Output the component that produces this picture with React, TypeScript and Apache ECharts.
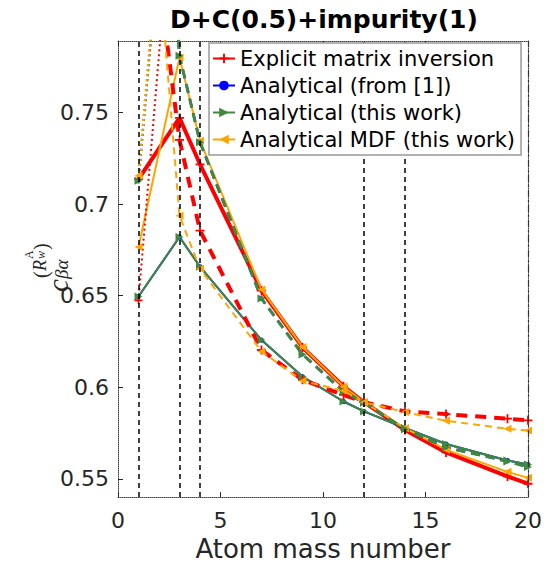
import React, { useEffect, useRef } from "react";
import * as echarts from "echarts";

const massNumbers = [1, 3, 4, 7, 9, 11, 12, 14, 16, 19, 20];
const dottedMass = [1, 3];
const explicitSolid = [0.7136, 0.747, 0.7217, 0.6527, 0.6217, 0.6005, 0.5918, 0.5766, 0.5644, 0.5513, 0.5473];
const explicitDashed = [0.91, 0.735, 0.6855, 0.6203, 0.604, 0.5958, 0.5918, 0.5868, 0.5853, 0.5828, 0.5819];
const explicitDotted = [0.6474, 0.916];
const thisWorkSolid = [0.6495, 0.682, 0.6658, 0.6257, 0.6058, 0.5922, 0.5868, 0.5777, 0.569, 0.56, 0.5578];
const thisWorkDashed = [1.1, 0.781, 0.7337, 0.6484, 0.6179, 0.5977, 0.5915, 0.577, 0.5672, 0.5595, 0.5565];
const thisWorkDotted = [0.7127, 0.97];
const fromRefSolid = thisWorkSolid;
const fromRefDashed = thisWorkDashed;
const fromRefDotted = thisWorkDotted;
const mdfSolid = [0.6765, 0.78, 0.7345, 0.6534, 0.6219, 0.6004, 0.5918, 0.5777, 0.5659, 0.5538, 0.5505];
const mdfDashed = [0.966, 0.6936, 0.6647, 0.6195, 0.6035, 0.598, 0.5918, 0.5864, 0.5817, 0.5773, 0.5763];
const mdfDotted = [0.7154, 0.975];
const dashedMarkers = [1, 3, 4, 12, 14];
const dashDotMarker = [20];
const legendNames = [
  "Explicit matrix inversion",
  "Analytical (from [1])",
  "Analytical (this work)",
  "Analytical MDF (this work)",
];

const RED = "#ff0000";
const BLUE = "#0000ff";
const GREEN = "#3f8a3f";
const ORANGE = "#ffa500";
const PLUS = "path://M4,0h2v4h4v2h-4v4h-2v-4h-4v-2h4z";
const TRI_R = "path://M0,0L10,5L0,10Z";
const TRI_L = "path://M10,0L0,5L10,10Z";

const pairs = (xs: number[], ys: number[]) => ys.map((y, i) => [xs[i], y]);

function mk(
  name: string,
  xs: number[],
  ys: number[],
  color: string,
  width: number,
  type: any,
  symbol: string,
  symbolSize: number
) {
  return {
    type: "line",
    name,
    data: pairs(xs, ys),
    symbol,
    symbolSize,
    showSymbol: true,
    lineStyle: { color, width, type },
    itemStyle: { color, borderWidth: 0 },
    z: 3,
  };
}

export default function App() {
  const ref = useRef<HTMLDivElement>(null);
  useEffect(() => {
    if (!ref.current) return;
    const chart = echarts.init(ref.current, undefined, { renderer: "svg" });
    const axisTxt = { color: "#262626", fontSize: 22, fontFamily: "DejaVu Sans" };
    const series: any[] = [
      mk(legendNames[0], massNumbers, explicitSolid, RED, 4, "solid", PLUS, 9),
      mk(legendNames[1], massNumbers, fromRefSolid, BLUE, 2, "solid", "circle", 5),
      mk(legendNames[2], massNumbers, thisWorkSolid, GREEN, 2, "solid", TRI_R, 8),
      mk(legendNames[3], massNumbers, mdfSolid, ORANGE, 2, "solid", TRI_L, 8),
      mk(legendNames[0], massNumbers, explicitDashed, RED, 4, [11, 8], PLUS, 9),
      mk(legendNames[1], massNumbers, fromRefDashed, BLUE, 2.5, [9, 6], "circle", 4),
      mk(legendNames[2], massNumbers, thisWorkDashed, GREEN, 3, [9, 6], TRI_R, 8),
      mk(legendNames[3], massNumbers, mdfDashed, ORANGE, 2, [7, 5], TRI_L, 8),
      mk(legendNames[0], dottedMass, explicitDotted, RED, 2, [2, 3], PLUS, 8),
      mk(legendNames[1], dottedMass, fromRefDotted, BLUE, 2, [2, 3], "circle", 4),
      mk(legendNames[2], dottedMass, thisWorkDotted, GREEN, 2.5, [2, 3], TRI_R, 8),
      mk(legendNames[3], dottedMass, mdfDotted, ORANGE, 2.5, [2, 3], TRI_L, 8),
    ];
    series[0].markLine = {
      silent: true,
      symbol: ["none", "none"],
      label: { show: false },
      animation: false,
      data: [
        ...dashedMarkers.map((v) => ({ xAxis: v, lineStyle: { color: "#000", width: 1.5, type: [5, 4] } })),
        ...dashDotMarker.map((v) => ({ xAxis: v, lineStyle: { color: "#333", width: 1.2, type: [7, 3, 2, 3] } })),
      ],
    };
    const option: any = {
      animation: false,
      backgroundColor: "#fff",
      grid: { left: 118, right: 16, top: 41, bottom: 68, show: false },
      legend: {
        data: legendNames,
        left: 209,
        top: 43,
        z: 20,
        orient: "vertical",
        itemWidth: 22,
        itemHeight: 12,
        itemGap: 6,
        padding: [5, 6, 5, 3],
        borderColor: "#999",
        borderWidth: 1.5,
        backgroundColor: "#fff",
        selectedMode: false,
        textStyle: { fontSize: 21, fontFamily: "DejaVu Sans", color: "#000" },
      },
      xAxis: [
        {
          type: "value",
          min: 0,
          max: 20,
          interval: 5,
          name: "Atom mass number",
          nameLocation: "middle",
          nameGap: 38,
          nameTextStyle: { fontSize: 26, fontFamily: "DejaVu Sans", color: "#262626" },
          axisLine: { show: true, onZero: false, lineStyle: { color: "#444", width: 1, type: "dotted" } },
          axisTick: { show: true, inside: true, length: 5, lineStyle: { color: "#262626" } },
          axisLabel: { ...axisTxt, margin: 12 },
          splitLine: { show: false },
        },
        {
          type: "value",
          position: "top",
          min: 0,
          max: 20,
          interval: 5,
          axisLine: { show: true, onZero: false, lineStyle: { color: "#444", width: 1, type: "dotted" } },
          axisTick: { show: true, inside: true, length: 5, lineStyle: { color: "#262626" } },
          axisLabel: { show: false },
          splitLine: { show: false },
        },
      ],
      yAxis: [
        {
          type: "value",
          min: 0.54,
          max: 0.789,
          splitNumber: 5,
          axisLine: { show: true, onZero: false, lineStyle: { color: "#444", width: 1, type: "dotted" } },
          axisTick: { show: true, inside: true, length: 5, lineStyle: { color: "#262626" } },
          axisLabel: { ...axisTxt, margin: 9, showMinLabel: false, showMaxLabel: false },
          splitLine: { show: false },
        },
        {
          type: "value",
          position: "right",
          min: 0.54,
          max: 0.789,
          splitNumber: 5,
          axisLine: { show: true, onZero: false, lineStyle: { color: "#444", width: 1, type: "dotted" } },
          axisTick: { show: false },
          axisLabel: { show: false },
          splitLine: { show: false },
        },
      ],
      graphic: [
        {
          type: "text",
          x: 324,
          y: 19,
          style: {
            text: "D+C(0.5)+impurity(1)",
            align: "center",
            verticalAlign: "middle",
            font: "bold 25px 'DejaVu Sans'",
            fill: "#000",
          },
        },
        {
          type: "group",
          x: 43,
          y: 292,
          rotation: Math.PI / 2,
          children: [
            { type: "text", x: 0, y: 0, style: { text: "c", font: "italic 29px 'Liberation Serif'", fill: "#262626", verticalAlign: "alphabetic" } },
            { type: "text", x: 13, y: 9, style: { text: "βα", font: "italic 19px 'Liberation Serif'", fill: "#262626", verticalAlign: "alphabetic" } },
            { type: "text", x: 14, y: -12, style: { text: "(", font: "20px 'Liberation Serif'", fill: "#262626", verticalAlign: "alphabetic" } },
            { type: "text", x: 21, y: -12, style: { text: "R", font: "italic 18px 'Liberation Serif'", fill: "#262626", verticalAlign: "alphabetic" } },
            { type: "text", x: 33, y: -20, style: { text: "A", font: "12px 'Liberation Serif'", fill: "#262626", verticalAlign: "alphabetic" } },
            { type: "text", x: 33, y: -8, style: { text: "w", font: "italic 12px 'Liberation Serif'", fill: "#262626", verticalAlign: "alphabetic" } },
            { type: "text", x: 42, y: -12, style: { text: ")", font: "20px 'Liberation Serif'", fill: "#262626", verticalAlign: "alphabetic" } },
          ],
        },
      ],
      series,
    };
    chart.setOption(option);
    return () => chart.dispose();
  }, []);
  return (
    <div
      ref={ref}
      style={{ position: "absolute", left: 0, top: 0, width: 545, height: 567 }}
    />
  );
}
